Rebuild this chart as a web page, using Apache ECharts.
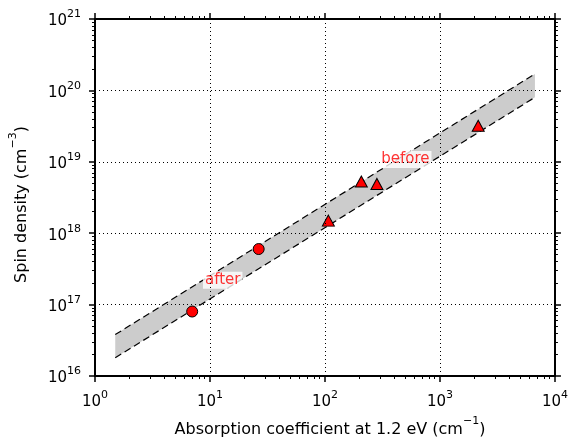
<!DOCTYPE html>
<html>
<head>
<meta charset="utf-8">
<script src="https://cdn.jsdelivr.net/npm/echarts@6/dist/echarts.min.js"></script>
<style>
html,body{margin:0;padding:0;background:#fff;}
#chart{width:571px;height:443px;}
</style>
</head>
<body>
<div id="chart"></div>
<script>
// ---- data ----
const afterX = [7, 26.5];
const afterY = [8e16, 6e17];
const beforeX = [107, 207, 283, 2150];
const beforeY = [1.5e18, 5.3e18, 4.9e18, 3.2e19];
const bandX = [1.5, 6700];
const bandLow = [1.8e16, 8e19];
const bandHigh = [3.8e16, 1.7e20];
const labelText = ['after', 'before'];
const labelX = [12.9, 500];
const labelY = [2.2e17, 1.08e19];
const xMajor = [1, 10, 100, 1000, 10000];
const yMajor = [1e16, 1e17, 1e18, 1e19, 1e20, 1e21];

function minorsOf(major) {
  const out = [];
  for (let i = 0; i < major.length - 1; i++) {
    for (let m = 2; m <= 9; m++) out.push(major[i] * m);
  }
  return out;
}
// keep the end ticks inside the axis extent despite float rounding
function inside(vals) {
  const n = vals.length;
  return vals.map((v, i) => i === 0 ? v * 1.0000001 : (i === n - 1 ? v * 0.9999999 : v));
}
const xMinor = minorsOf(xMajor);
const yMinor = minorsOf(yMajor);

const FONT = 'DejaVu Sans';
const tickRich = {
  b: {fontFamily: FONT, fontSize: 15, lineHeight: 20, verticalAlign: 'bottom', color: '#000'},
  s: {fontFamily: FONT, fontSize: 11, lineHeight: 11, verticalAlign: 'top', color: '#000'}
};
function powLabel(v) {
  const e = Math.round(Math.log10(v));
  return '{b|10}{s|' + e + '}';
}
const nameRich = {
  n: {fontFamily: FONT, fontSize: 16, lineHeight: 22, verticalAlign: 'bottom', color: '#000'},
  s: {fontFamily: FONT, fontSize: 11, lineHeight: 12, verticalAlign: 'top', color: '#000'}
};

function axisPair(dim, pos, major, minor, withLabels, extent) {
  const base = {
    type: 'log', logBase: 10, min: extent[0], max: extent[1], position: pos,
    axisLine: {show: false, onZero: false},
    axisTick: {show: true},
    axisLabel: {show: false},
    splitLine: {show: false},
    minorTick: {show: false}
  };
  const maj = JSON.parse(JSON.stringify(base));
  maj.axisLine = {show: true, onZero: false, lineStyle: {color: '#000', width: 2}};
  maj.axisTick = {show: true, inside: false, length: 6, customValues: inside(major), lineStyle: {color: '#000', width: 1.5}};
  maj.axisLabel = withLabels ? {
    show: true, customValues: inside(major), formatter: powLabel, rich: tickRich,
    showMinLabel: true, showMaxLabel: true, hideOverlap: false,
    margin: dim === 'x' ? 14 : 14
  } : {show: false};
  maj.splitLine = withLabels ? {show: true, lineStyle: {color: '#000', width: 1, type: [1, 3]}} : {show: false};
  maj.z = 5;
  const mnr = JSON.parse(JSON.stringify(base));
  mnr.axisTick = {show: true, inside: false, length: 3, customValues: minor, lineStyle: {color: '#000', width: 1}};
  mnr.z = 5;
  return [maj, mnr];
}

const xAxes = axisPair('x', 'bottom', xMajor, xMinor, true, [1, 1e4])
  .concat(axisPair('x', 'top', xMajor, xMinor, false, [1, 1e4]));
const yAxes = axisPair('y', 'left', yMajor, yMinor, true, [1e16, 1e21])
  .concat(axisPair('y', 'right', yMajor, yMinor, false, [1e16, 1e21]));

xAxes[0].name = '{n|Absorption coefficient at 1.2 eV (cm}{s|\u22121}{n|)}';
xAxes[0].nameLocation = 'middle';
xAxes[0].nameGap = 40;
xAxes[0].nameTextStyle = {rich: nameRich, padding: [0, 0, 0, 10]};
yAxes[0].name = '{n|Spin density (cm}{s|\u22123}{n|)}';
yAxes[0].nameLocation = 'middle';
yAxes[0].nameGap = 65;
yAxes[0].nameTextStyle = {rich: nameRich, padding: [0, 14, 0, 0]};

const chart = echarts.init(document.getElementById('chart'), null, {renderer: 'canvas'});
chart.setOption({
  animation: false,
  backgroundColor: '#fff',
  grid: {left: 92, top: 19, width: 466, height: 360, containLabel: false},
  xAxis: xAxes,
  yAxis: yAxes,
  series: [
    {
      type: 'custom', xAxisIndex: 0, yAxisIndex: 0, z: 1,
      data: [[bandX[0], bandLow[0]]],
      renderItem: function (params, api) {
        const pts = [];
        for (let i = 0; i < bandX.length; i++) pts.push(api.coord([bandX[i], bandHigh[i]]));
        for (let i = bandX.length - 1; i >= 0; i--) pts.push(api.coord([bandX[i], bandLow[i]]));
        return {type: 'polygon', shape: {points: pts}, style: {fill: '#cccccc', stroke: null}};
      },
      silent: true
    },
    {
      type: 'line', xAxisIndex: 0, yAxisIndex: 0, z: 2, symbol: 'none',
      data: bandX.map((x, i) => [x, bandHigh[i]]),
      lineStyle: {color: '#000', width: 1.2, type: [7, 4]}
    },
    {
      type: 'line', xAxisIndex: 0, yAxisIndex: 0, z: 2, symbol: 'none',
      data: bandX.map((x, i) => [x, bandLow[i]]),
      lineStyle: {color: '#000', width: 1.2, type: [7, 4]}
    },
    {
      type: 'scatter', xAxisIndex: 0, yAxisIndex: 0, z: 3, symbolSize: 0,
      data: labelText.map((t, i) => ({name: t, value: [labelX[i], labelY[i]]})),
      label: {
        show: true, position: 'inside', formatter: '{b}',
        fontFamily: FONT, fontSize: 15, color: '#ff0000',
        backgroundColor: '#ffffff', padding: [1, 2, 1, 2]
      }
    },
    {
      type: 'scatter', xAxisIndex: 0, yAxisIndex: 0, z: 4, symbol: 'circle', symbolSize: 11,
      data: afterX.map((x, i) => [x, afterY[i]]),
      itemStyle: {color: '#ff0000', borderColor: '#000', borderWidth: 1, opacity: 1}
    },
    {
      type: 'scatter', xAxisIndex: 0, yAxisIndex: 0, z: 4, symbol: 'triangle', symbolSize: [12, 11],
      data: beforeX.map((x, i) => [x, beforeY[i]]),
      itemStyle: {color: '#ff0000', borderColor: '#000', borderWidth: 1, opacity: 1}
    }
  ]
});
</script>
</body>
</html>
